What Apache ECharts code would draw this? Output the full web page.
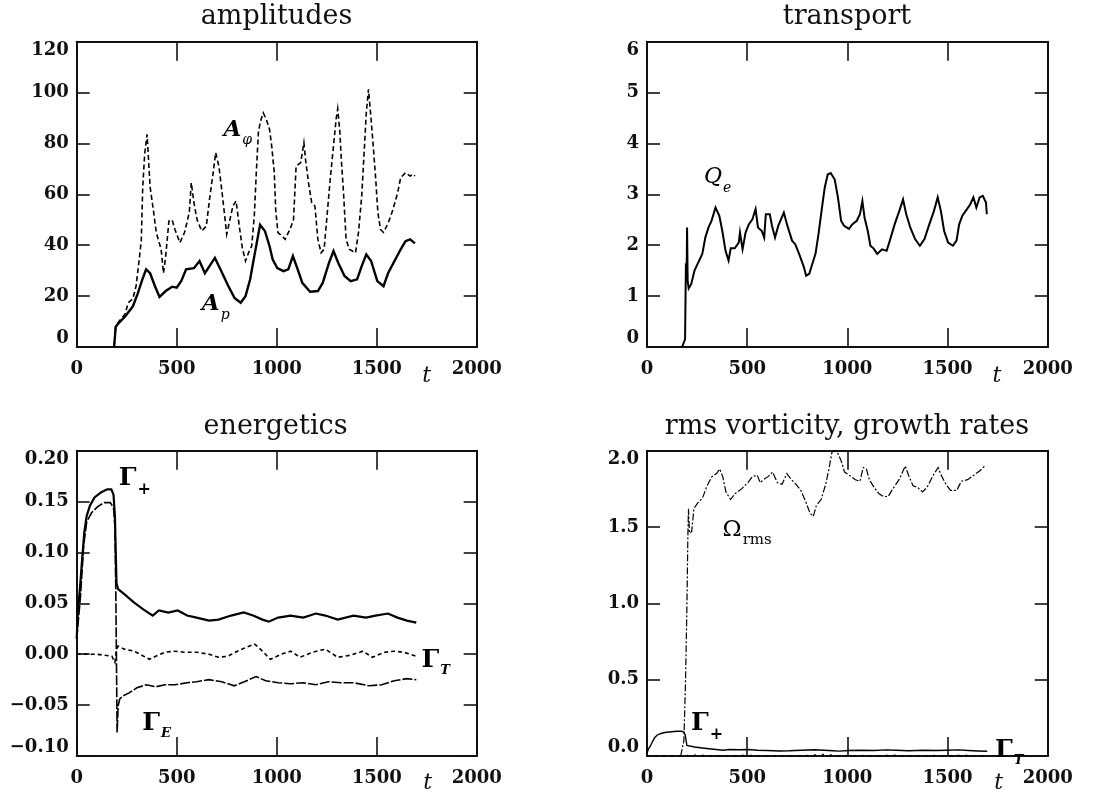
<!DOCTYPE html>
<html><head><meta charset="utf-8">
<script src="https://cdn.jsdelivr.net/npm/echarts@6/dist/echarts.min.js"></script>
<style>html,body{margin:0;padding:0;background:#fff}#c{width:1114px;height:800px}</style>
</head><body><div id="c"></div>
<script>
// ---------- data: [t, value] ----------
const ampP = [[187,0],[195,8],[211,9.5],[242,12],[281,16],[305,21],[328,26.5],[347,30.5],[367,29],[391,24],[414,19.7],[445,22],[477,23.7],[500,23.3],[523,26],[547,30.5],[586,31],[614,33.8],[641,29],[664,31.8],[691,35],[719,30.5],[758,24],[789,19.3],[820,17.4],[844,20],[867,26.5],[891,37],[917,48],[941,45.6],[964,39.7],[980,34.4],[1003,31],[1034,29.8],[1058,30.5],[1081,35.7],[1105,30.5],[1128,25.2],[1167,21.7],[1206,22],[1230,25.2],[1261,33],[1284,37.7],[1308,33],[1339,27.9],[1370,25.9],[1402,26.6],[1425,31.8],[1448,36.4],[1472,33.8],[1503,25.9],[1534,23.9],[1558,29.2],[1589,33.8],[1620,38.4],[1644,41.6],[1667,42.3],[1691,40.7]];
const ampPhi = [[187,0],[195,8],[211,10],[242,13],[258,17.4],[281,19],[297,24],[312,34],[323,42],[330,62.6],[340,76],[352,83.6],[359,73.8],[367,63],[383,54],[398,45],[422,38.4],[434,29],[445,35.7],[461,49.5],[477,50],[492,46],[516,41],[539,45],[563,52.8],[573,64.6],[586,56.7],[602,50],[625,45.6],[648,47.5],[664,58],[680,67.2],[695,76.4],[711,71],[727,60.7],[742,50],[750,44.3],[766,50],[781,55.4],[797,57.4],[813,47.5],[828,39],[844,33.8],[859,37],[875,39.7],[888,51.5],[898,68.5],[909,85],[922,89.5],[933,92],[948,89.5],[964,85.6],[975,79],[988,68.5],[995,54],[1006,45],[1027,43.6],[1042,42.3],[1066,46.2],[1084,50],[1097,71],[1120,72.5],[1136,80.3],[1144,73.8],[1159,64.6],[1175,56.7],[1191,55.4],[1206,42.3],[1222,37],[1237,38.4],[1253,52.8],[1269,67.2],[1284,79],[1297,89.5],[1305,93.7],[1316,84.3],[1323,73.8],[1334,60.7],[1347,42.3],[1363,38.4],[1394,37],[1409,45],[1425,59.3],[1438,77.7],[1448,92],[1459,101.3],[1472,89.5],[1484,77.7],[1495,66],[1506,52.8],[1519,46.2],[1534,45],[1558,48.8],[1581,54],[1605,60.7],[1620,66.6],[1644,68.5],[1667,67.2],[1683,67.9],[1691,67.2]];
const transportQe = [[175,0],[190,0.15],[194,1.55],[198,1.5],[200,2.35],[203,1.3],[208,1.15],[221,1.24],[237,1.5],[252,1.63],[276,1.83],[291,2.15],[307,2.35],[322,2.48],[342,2.74],[361,2.58],[376,2.28],[392,1.89],[407,1.7],[418,1.94],[438,1.94],[458,2.05],[464,2.25],[477,1.92],[492,2.25],[508,2.41],[526,2.51],[542,2.71],[554,2.35],[573,2.28],[585,2.15],[593,2.61],[613,2.61],[624,2.38],[639,2.15],[655,2.38],[683,2.64],[701,2.38],[724,2.09],[740,2.02],[763,1.79],[783,1.57],[794,1.4],[810,1.44],[825,1.63],[841,1.83],[856,2.22],[871,2.67],[887,3.13],[902,3.39],[917,3.42],[937,3.29],[953,2.94],[969,2.48],[984,2.38],[1008,2.32],[1024,2.41],[1047,2.48],[1063,2.61],[1075,2.87],[1086,2.54],[1102,2.28],[1115,1.99],[1130,1.94],[1149,1.83],[1173,1.92],[1196,1.89],[1212,2.09],[1236,2.41],[1259,2.67],[1278,2.9],[1294,2.61],[1314,2.35],[1338,2.12],[1362,1.99],[1385,2.12],[1409,2.41],[1432,2.67],[1451,2.94],[1467,2.67],[1483,2.28],[1503,2.05],[1527,1.99],[1545,2.09],[1558,2.41],[1574,2.58],[1590,2.67],[1613,2.8],[1629,2.94],[1644,2.74],[1660,2.94],[1676,2.97],[1692,2.84],[1696,2.61]];
const gammaPlus = [[0,0.015],[6,0.044],[16,0.064],[27,0.093],[38,0.12],[50,0.136],[66,0.146],[89,0.154],[121,0.159],[152,0.162],[173,0.162],[184,0.157],[191,0.136],[199,0.07],[207,0.064],[238,0.059],[286,0.051],[333,0.044],[380,0.038],[411,0.043],[458,0.041],[505,0.043],[552,0.038],[599,0.036],[662,0.033],[709,0.034],[772,0.038],[835,0.041],[882,0.038],[929,0.034],[960,0.032],[1007,0.036],[1070,0.038],[1133,0.036],[1196,0.04],[1243,0.038],[1305,0.034],[1384,0.038],[1447,0.036],[1494,0.038],[1556,0.04],[1604,0.036],[1651,0.033],[1698,0.031]];
const gammaE = [[0,0.015],[19,0.057],[35,0.107],[50,0.13],[74,0.139],[105,0.145],[137,0.149],[168,0.149],[184,0.144],[191,0.126],[196,0.054],[199,-0.011],[202,-0.077],[207,-0.051],[215,-0.044],[231,-0.041],[262,-0.038],[301,-0.033],[348,-0.03],[395,-0.032],[442,-0.03],[490,-0.03],[552,-0.028],[599,-0.027],[662,-0.025],[725,-0.027],[788,-0.031],[850,-0.026],[897,-0.022],[945,-0.026],[1007,-0.028],[1070,-0.029],[1133,-0.028],[1196,-0.03],[1258,-0.027],[1321,-0.028],[1384,-0.028],[1462,-0.031],[1525,-0.03],[1588,-0.026],[1651,-0.024],[1698,-0.025]];
const gammaT = [[0,0],[100,0],[176,-0.002],[191,-0.008],[199,0.005],[207,0.008],[238,0.005],[286,0.003],[317,0],[364,-0.005],[395,-0.002],[442,0.002],[490,0.003],[537,0.002],[599,0.002],[662,0],[709,-0.003],[756,-0.002],[803,0.003],[850,0.007],[890,0.01],[929,0.003],[968,-0.005],[1023,0],[1070,0.003],[1117,-0.003],[1180,0.002],[1243,0.005],[1305,-0.003],[1368,-0.001],[1431,0.003],[1478,-0.003],[1541,0.002],[1588,0.003],[1635,0.002],[1698,-0.002]];
const omegaRms = [[168,0],[184,0.1],[192,0.47],[199,0.96],[204,1.44],[207,1.62],[212,1.46],[223,1.47],[234,1.62],[254,1.66],[277,1.69],[300,1.77],[324,1.83],[347,1.85],[363,1.88],[378,1.83],[394,1.73],[417,1.68],[441,1.72],[472,1.75],[503,1.79],[526,1.83],[550,1.84],[565,1.79],[581,1.81],[604,1.83],[627,1.86],[651,1.79],[674,1.78],[698,1.85],[721,1.81],[744,1.78],[768,1.74],[791,1.67],[814,1.59],[830,1.57],[845,1.64],[869,1.68],[892,1.78],[908,1.88],[923,1.99],[939,2.0],[954,1.98],[970,1.93],[986,1.86],[1009,1.84],[1040,1.81],[1063,1.8],[1079,1.89],[1095,1.88],[1110,1.81],[1133,1.76],[1157,1.72],[1180,1.7],[1204,1.7],[1227,1.75],[1258,1.81],[1289,1.9],[1305,1.84],[1328,1.77],[1351,1.76],[1375,1.73],[1398,1.76],[1429,1.84],[1453,1.89],[1468,1.84],[1492,1.78],[1515,1.74],[1546,1.74],[1569,1.8],[1600,1.81],[1632,1.84],[1663,1.87],[1686,1.9]];

// tick settings
const xTicks = {min:0, max:2000, interval:500};
const yAmp = {min:0, max:120, interval:20};
const yTrans = {min:0, max:6, interval:1};
const yEnerg = {min:-0.1, max:0.2, interval:0.05};
const yVort = {min:0, max:2, interval:0.5};

// titles and annotation labels
const panelTitles = ['amplitudes','transport','energetics','rms vorticity, growth rates'];
const ampNotes = [[805,85,'A','φ','a'],[695,16.5,'A','p','a']];
const transNotes = [[353,3.32,'Q','e','q']];
const energNotes = [[291,0.173,'Γ','+','g'],[1795,-0.006,'Γ','T','gi'],[400,-0.068,'Γ','E','gi']];
const vortNotes = [[500,1.48,'Ω','rms','o'],[300,0.214,'Γ','+','g'],[1808,0.04,'Γ','T','gi']];

const FONT = 'DejaVu Serif';
const INK = '#111';
const grids = [
  {left:76.7, top:41.7, width:400, height:305.3},
  {left:647, top:41.7, width:400.7, height:305.3},
  {left:76.7, top:450.7, width:400, height:305.3},
  {left:647, top:450.7, width:400.7, height:305.3}
].map(g => Object.assign({show:false, outerBoundsMode:'none', containLabel:false}, g));

function fmtY(dec){ return v => { if (Math.abs(v) < 1e-9) v = 0; return v.toFixed(dec).replace('-', '\u2212'); }; }
const yFormats = [fmtY(0), fmtY(0), fmtY(2), fmtY(1)];
const yRanges = [yAmp, yTrans, yEnerg, yVort];

const lineStyleAxis = {color:INK, width:2};
const tickLabel = {color:INK, fontFamily:FONT, fontSize:18, fontWeight:'bold'};
const xAxes = [], yAxes = [];
for (let i=0;i<4;i++){
  xAxes.push(Object.assign({type:'value', gridIndex:i, position:'bottom', splitLine:{show:false},
    axisLine:{show:true, onZero:false, lineStyle:lineStyleAxis},
    axisTick:{show:true, inside:true, length:19, lineStyle:{color:INK, width:1.6}},
    axisLabel:Object.assign({show:true, margin:13, formatter: v => String(Math.round(v))}, tickLabel)}, xTicks));
  xAxes.push(Object.assign({type:'value', gridIndex:i, position:'top', splitLine:{show:false},
    axisLine:{show:true, onZero:false, lineStyle:lineStyleAxis},
    axisTick:{show:true, inside:true, length:19, lineStyle:{color:INK, width:1.6}},
    axisLabel:{show:false}}, xTicks));
  yAxes.push(Object.assign({type:'value', gridIndex:i, position:'left', splitLine:{show:false},
    axisLine:{show:true, onZero:false, lineStyle:lineStyleAxis},
    axisTick:{show:true, inside:true, length:13, lineStyle:{color:INK, width:1.6}},
    axisLabel:Object.assign({show:true, margin:8, formatter:yFormats[i],
      verticalAlignMaxLabel:'top', verticalAlignMinLabel:'bottom'}, tickLabel)}, yRanges[i]));
  yAxes.push(Object.assign({type:'value', gridIndex:i, position:'right', splitLine:{show:false},
    axisLine:{show:true, onZero:false, lineStyle:lineStyleAxis},
    axisTick:{show:true, inside:true, length:13, lineStyle:{color:INK, width:1.6}},
    axisLabel:{show:false}}, yRanges[i]));
}

function line(panel, data, width, type){
  return {type:'line', xAxisIndex:panel*2, yAxisIndex:panel*2, data:data, showSymbol:false, symbol:'none',
    lineStyle:{color:'#000', width:width, type:type||'solid', cap:'butt', join:'miter'}, animation:false, z:3};
}
const rich = {
  a:{fontFamily:FONT, fontSize:23, fontStyle:'italic', fontWeight:'bold', color:'#000', lineHeight:24, verticalAlign:'top'},
  q:{fontFamily:FONT, fontSize:22, fontStyle:'italic', color:'#000', lineHeight:24, verticalAlign:'top'},
  g:{fontFamily:FONT, fontSize:25, fontWeight:'bold', color:'#000', lineHeight:24, verticalAlign:'top'},
  o:{fontFamily:FONT, fontSize:23, color:'#000', lineHeight:24, verticalAlign:'top'},
  s:{fontFamily:FONT, fontSize:14, fontStyle:'italic', color:'#000', lineHeight:14, padding:[15,0,0,1], verticalAlign:'top'},
  u:{fontFamily:FONT, fontSize:15, color:'#000', lineHeight:14, padding:[15,0,0,1], verticalAlign:'top'},
  ub:{fontFamily:FONT, fontSize:16, fontWeight:'bold', color:'#000', lineHeight:14, padding:[16,0,0,1], verticalAlign:'top'},
  si:{fontFamily:FONT, fontSize:13, fontStyle:'italic', fontWeight:'bold', color:'#000', lineHeight:14, padding:[16,0,0,1], verticalAlign:'top'}
};
const subStyle = {a:'s', q:'s', g:'ub', gi:'si', o:'u'};
function notes(panel, arr){
  return {type:'scatter', xAxisIndex:panel*2, yAxisIndex:panel*2, symbolSize:0, silent:true, animation:false, z:5,
    itemStyle:{opacity:1},
    data: arr.map(n => ({value:[n[0], n[1]], name:n[2] + '|' + n[3] + '|' + n[4]})),
    label:{show:true, position:'inside', opacity:1, rich:rich,
      formatter: p => { const [a,b,k] = p.name.split('|'); const main = k === 'gi' ? 'g' : k;
        return '{' + main + '|' + a + '}{' + subStyle[k] + '|' + b + '}'; }}};
}

const titlePos = [[276.5,17],[847,17],[275.5,427],[847,427]];
const tPos = [[426.7,376],[997,376],[427.7,783],[998.7,783]];
const graphics = [];
panelTitles.forEach((t,i) => graphics.push({type:'text', x:titlePos[i][0], y:titlePos[i][1],
  style:{text:t, fill:INK, font:'27px "' + FONT + '"', textAlign:'center', textVerticalAlign:'middle'}}));
tPos.forEach(p => graphics.push({type:'text', x:p[0], y:p[1],
  style:{text:'t', fill:INK, font:'italic 22px "' + FONT + '"', textAlign:'center', textVerticalAlign:'middle'}}));

const option = {
  backgroundColor:'#fff', animation:false,
  grid: grids, xAxis: xAxes, yAxis: yAxes, graphic: graphics,
  series: [
    line(0, ampPhi, 1.6, [5,3]),
    line(0, ampP, 2.4),
    line(1, transportQe, 2),
    line(2, gammaT, 1.6, [4,3]),
    line(2, gammaE, 1.6, [10,2]),
    line(2, gammaPlus, 2.2),
    line(3, omegaRms, 1.2, [7,2,2,2]),
    line(3, gammaPlus, 1.4),
    line(3, gammaT, 1.6, [2,6]),
    notes(0, ampNotes), notes(1, transNotes), notes(2, energNotes), notes(3, vortNotes)
  ]
};
const chart = echarts.init(document.getElementById('c'), null, {renderer:'canvas'});
chart.setOption(option);
</script></body></html>
